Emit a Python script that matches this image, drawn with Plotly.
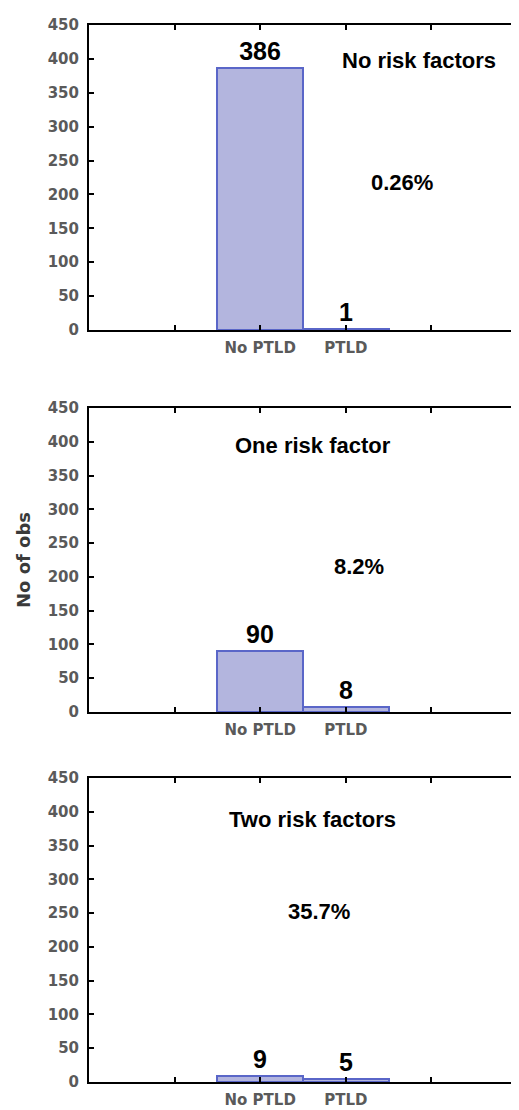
import plotly.graph_objects as go

# ---- data ----
categories = ["No PTLD", "PTLD"]
panel_titles = ["No risk factors", "One risk factor", "Two risk factors"]
no_ptld_counts = [386, 90, 9]
ptld_counts = [1, 8, 5]
pct_labels = ["0.26%", "8.2%", "35.7%"]
y_tickvals = [0, 50, 100, 150, 200, 250, 300, 350, 400, 450]
y_title = "No of obs"

# ---- layout / style (not data) ----
PAGE_OFF = 8  # default body margin of the html page
W, H = 511, 1102
M_L, M_R, M_T, M_B = 81, 2, 17, 28
plot_h = H - M_T - M_B
page_bottom = PAGE_OFF + H - M_B
# page-pixel extents (top, bottom) of each panel
panel_px = [(25, 330), (408, 712), (778, 1082)]
domains = [[(page_bottom - b) / plot_h, (page_bottom - t) / plot_h] for (t, b) in panel_px]

title_pos = [(1.85, 398), (0.62, 395), (0.61, 389)]
pct_pos = [(1.66, 217), (1.15, 216), (0.69, 252)]

bar_fill = "#b3b5de"
bar_line = "#5a66c8"
tick_font = dict(family="DejaVu Sans", size=15, color="#5a5a5a", weight="bold")
label_font = dict(family="Liberation Sans", size=25, color="black", weight="bold")
ann_font = dict(family="Liberation Sans", size=22, color="black", weight="bold")

xpos = list(range(len(categories)))

fig = go.Figure()
annotations = []
for i in range(3):
    sfx = "" if i == 0 else str(i + 1)
    vals = [no_ptld_counts[i], ptld_counts[i]]
    fig.add_trace(go.Bar(
        x=xpos, y=vals, width=1,
        text=[str(v) for v in vals], textposition="outside",
        textfont=label_font, constraintext="none", cliponaxis=False,
        marker=dict(color=bar_fill, line=dict(color=bar_line, width=2)),
        xaxis="x" + sfx, yaxis="y" + sfx, showlegend=False,
        hoverinfo="x+y",
    ))
    ax_common = dict(
        showline=True, linecolor="black", linewidth=2, mirror="ticks",
        ticks="inside", ticklen=5, tickwidth=1.5, tickcolor="black",
        showgrid=False, zeroline=False, tickfont=tick_font,
    )
    fig.layout["xaxis" + sfx] = dict(
        ax_common, range=[-2, 3], anchor="y" + sfx,
        tickvals=[-1] + xpos + [len(xpos)],
        ticktext=[""] + categories + [""],
        ticklabelstandoff=3, fixedrange=True,
    )
    fig.layout["yaxis" + sfx] = dict(
        ax_common, range=[0, 450], domain=domains[i], anchor="x" + sfx,
        tickvals=y_tickvals, ticklabelstandoff=5, fixedrange=True,
    )
    annotations.append(dict(
        x=title_pos[i][0], y=title_pos[i][1], xref="x" + sfx, yref="y" + sfx,
        text=panel_titles[i], showarrow=False, font=ann_font,
        xanchor="center", yanchor="middle",
    ))
    annotations.append(dict(
        x=pct_pos[i][0], y=pct_pos[i][1], xref="x" + sfx, yref="y" + sfx,
        text=pct_labels[i], showarrow=False, font=ann_font,
        xanchor="center", yanchor="middle",
    ))

fig.layout.yaxis2.title = dict(
    text=y_title, font=dict(family="DejaVu Sans", size=18, color="#3a3a3a", weight="bold"),
    standoff=12,
)

fig.update_layout(
    width=W, height=H,
    margin=dict(l=M_L, r=M_R, t=M_T, b=M_B, autoexpand=False),
    paper_bgcolor="white", plot_bgcolor="white",
    annotations=annotations, bargap=0,
)

fig.write_html("out.html")
